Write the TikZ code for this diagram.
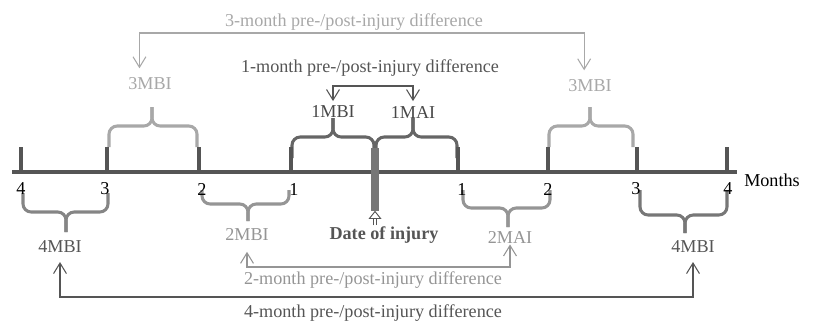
\documentclass[tikz,border=0pt]{standalone}
\usepackage{fontspec}
\setmainfont{Liberation Serif}
\usepackage{tikz}
\usetikzlibrary{arrows.meta}

\definecolor{lightgrey}{HTML}{A8A8A8}
\definecolor{midgrey}{HTML}{959595}
\definecolor{darkgrey}{HTML}{555555}
\definecolor{bargrey}{HTML}{777777}

% one brace: style, left x, right x, tip x, end y, middle y, tip y
\newcommand{\monthbrace}[7]{%
	\draw[#1] (#2,#5) -- (#2,#6) -- (#4,#6) -- (#4,#7);
	\draw[#1] (#3,#5) -- (#3,#6) -- (#4,#6) -- (#4,#7);
}

\begin{document}
\begin{tikzpicture}[x=0.03cm, y=-0.03cm,
	every node/.style={font=\fontsize{15.5}{18}\selectfont, inner sep=1pt},
	brc/.style={rounded corners=7pt, line width=2.6pt},
	arrs/.style={line width=0.9pt, {Straight Barb[length=9pt,width=11pt]}-{Straight Barb[length=9pt,width=11pt]}},
	tck/.style={line width=3pt, darkgrey}]
	\useasboundingbox (0,0) rectangle (814,322);
	% braces
	\monthbrace{brc, lightgrey}{109}{197}{152}{147}{126}{107}
	\monthbrace{brc, lightgrey}{549}{633}{590}{147}{126}{107}
	\monthbrace{brc, darkgrey!90}{292}{374}{333}{158}{137}{118}
	\monthbrace{brc, darkgrey!90}{376}{457}{413}{158}{137}{118}
	\monthbrace{brc, midgrey}{202}{289}{248}{190}{204}{221}
	\monthbrace{brc, midgrey}{463}{550}{508}{190}{208}{227}
	\monthbrace{brc, bargrey!90}{23}{108}{66}{193}{212}{232}
	\monthbrace{brc, bargrey}{640}{727}{685}{190}{215}{233}
	% time axis
	\draw[tck, line width=3.5pt] (12,172) -- (737,172);
	\foreach \x in {21,107,199,291,458,548,637,727} {
		\draw[tck] (\x,147) -- (\x,172);
	};
	\foreach \x/\n in {21/4,105/3,202/2,294/1,462/1,548/2,636/3,728/4} {
		\node at (\x,189) (lbl\x) {\n};
	};
	\node at (772,180) (months) {Months};
	\node[fill=bargrey, inner sep=0, minimum width=6pt, minimum height=1.89cm] at (375,179) (injbar) {};
	\node[darkgrey, font=\fontsize{15.5}{18}\selectfont\bfseries] at (384,235) (dateinj) {Date of injury};
	\draw[darkgrey, double, double distance=2.5pt, line width=0.8pt, -{Triangle[open, length=7pt, width=11pt]}] (injbar.south |- dateinj.north) -- (injbar.south);
	% 3 months
	\node[lightgrey] at (354,22) (diff3) {3-month pre-/post-injury difference};
	\node[lightgrey] at (150,84) (mbi3l) {3MBI};
	\node[lightgrey] at (590,86) (mbi3r) {3MBI};
	\coordinate (c3) at (354,33);
	\draw[arrs, lightgrey, shorten <=7pt, shorten >=7pt] ([xshift=-9pt]mbi3l.north) |- (c3) -| ([xshift=-5pt]mbi3r.north);
	% 1 month
	\node[darkgrey] at (370,68) (diff1) {1-month pre-/post-injury difference};
	\node[darkgrey!85!black] at (333,112) (mbi1) {1MBI};
	\node[darkgrey!85!black] at (413,112) (mai1) {1MAI};
	\coordinate (c1) at (373,86);
	\draw[arrs, darkgrey, shorten <=3pt, shorten >=3pt] (mbi1.north) |- (c1) -| (mai1.north);
	% 2 months
	\node[midgrey] at (247,235) (mbi2) {2MBI};
	\node[midgrey] at (510,237) (mai2) {2MAI};
	\node[midgrey] at (373,280) (diff2) {2-month pre-/post-injury difference};
	\coordinate (c2) at (373,267);
	\draw[arrs, midgrey, shorten <=8pt] (mbi2.south) |- (c2) -| (mai2.south);
	% 4 months
	\node[darkgrey] at (60,247) (mbi4l) {4MBI};
	\node[darkgrey] at (693,247) (mbi4r) {4MBI};
	\node[darkgrey] at (373,313) (diff4) {4-month pre-/post-injury difference};
	\coordinate (c4) at (373,297);
	\draw[arrs, darkgrey, shorten <=6.5pt, shorten >=6.5pt] (mbi4l.south) |- (c4) -| (mbi4r.south);
\end{tikzpicture}
\end{document}
